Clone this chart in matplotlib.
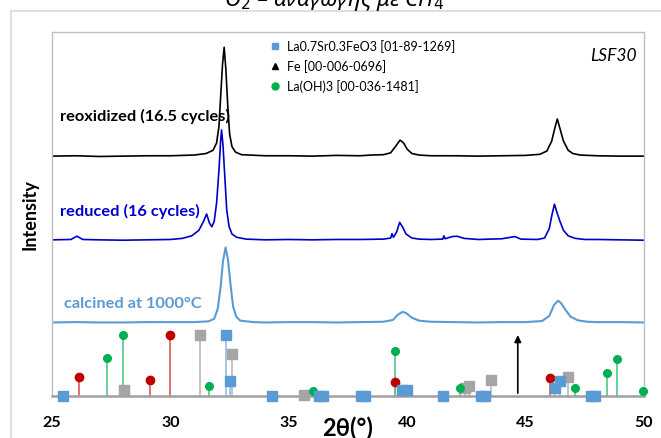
"""XRD patterns of LSF30 after O2/CH4 redox cycles, with reference sticks."""
import matplotlib
matplotlib.use("Agg")
import matplotlib.pyplot as plt
from matplotlib.lines import Line2D
from matplotlib.patches import Rectangle

plt.rcParams["font.family"] = ["Lato", "DejaVu Sans"]

# --- measured patterns (2theta, offset intensity) ---
reox_tt = [25.0, 26.0, 27.0, 28.0, 29.0, 30.0, 31.0, 31.5, 31.8, 31.95, 32.05, 32.12, 32.2, 32.27,
           32.34, 32.42, 32.5, 32.6, 32.75, 33.0, 34.0, 35.0, 36.0, 37.0, 38.0, 38.5, 39.0, 39.3,
           39.5, 39.7, 39.85, 40.0, 40.2, 40.5, 41.0, 42.0, 43.0, 44.0, 45.0, 45.6, 45.9, 46.1,
           46.25, 46.34, 46.45, 46.6, 46.8, 47.0, 47.3, 48.0, 49.0, 50.0]
reox_int = [65.9, 66.0, 65.8, 65.9, 66.0, 66.0, 66.2, 66.6, 67.5, 69.5, 74.0, 82.0, 91.0, 95.8,
            90.0, 80.0, 72.0, 68.5, 67.0, 66.3, 66.0, 66.0, 65.9, 66.1, 66.0, 66.2, 66.3, 66.8,
            68.5, 70.3, 69.5, 67.8, 66.6, 66.2, 66.0, 66.0, 65.9, 66.0, 66.1, 66.4, 67.3, 70.0,
            74.0, 76.1, 73.5, 70.0, 67.5, 66.6, 66.2, 66.0, 65.9, 65.9]

red_tt = [25.0, 25.8, 26.05, 26.3, 27.0, 28.0, 29.0, 30.0, 30.5, 30.9, 31.2, 31.4, 31.53, 31.65,
          31.75, 31.85, 31.95, 32.05, 32.12, 32.16, 32.22, 32.3, 32.38, 32.48, 32.6, 32.8, 33.2,
          34.0, 35.0, 36.0, 37.0, 38.0, 39.0, 39.3, 39.36, 39.42, 39.55, 39.68, 39.8, 39.95,
          40.2, 40.5, 41.0, 41.5, 41.55, 41.6, 41.9, 42.1, 42.4, 43.0, 44.0, 44.55, 44.8, 45.5,
          45.8, 46.0, 46.12, 46.22, 46.32, 46.45, 46.6, 46.8, 47.1, 47.5, 48.0, 49.0, 50.0]
red_int = [42.9, 43.0, 43.9, 43.0, 42.9, 42.8, 42.9, 43.0, 43.3, 44.0, 45.5, 48.0, 50.0, 47.5,
           46.5, 48.0, 53.0, 62.0, 70.0, 73.1, 69.0, 60.0, 51.0, 46.5, 44.5, 43.6, 43.1,
           42.9, 43.0, 42.9, 43.0, 43.0, 43.1, 43.4, 44.6, 43.6, 45.0, 47.7, 46.5, 44.5,
           43.4, 43.1, 43.0, 43.1, 44.0, 43.2, 43.8, 43.9, 43.3, 43.0, 43.2, 43.8, 43.1, 43.0,
           43.4, 46.0, 50.0, 52.7, 50.5, 48.0, 45.5, 44.0, 43.3, 43.0, 43.0, 42.9, 42.8]

calc_tt = [25.0, 26.0, 27.0, 28.0, 29.0, 30.0, 31.0, 31.6, 31.85, 32.0, 32.12, 32.22, 32.33,
           32.43, 32.55, 32.65, 32.78, 32.95, 33.5, 34.0, 35.0, 36.0, 37.0, 38.0, 39.0, 39.4,
           39.6, 39.8, 39.95, 40.2, 40.5, 41.0, 42.0, 43.0, 44.0, 45.0, 45.7, 46.0, 46.2, 46.37,
           46.5, 46.7, 46.9, 47.2, 47.6, 48.0, 49.0, 50.0]
calc_int = [20.2, 20.3, 20.2, 20.2, 20.3, 20.3, 20.3, 20.5, 21.2, 24.0, 30.0, 37.0, 40.8,
            37.5, 30.0, 24.5, 21.8, 20.7, 20.3, 20.2, 20.3, 20.3, 20.2, 20.3, 20.4, 20.9,
            22.3, 23.1, 22.8, 21.5, 20.7, 20.4, 20.3, 20.2, 20.3, 20.3, 20.6, 22.0, 25.0, 26.2,
            25.5, 23.5, 21.8, 20.8, 20.4, 20.3, 20.3, 20.2]

# --- reference sticks ---
lsf_pos = [25.48, 32.33, 32.52, 34.3, 36.28, 36.45, 38.07, 38.2, 39.78, 40.0, 41.51, 43.13,
           43.3, 46.25, 46.46, 47.77, 47.95]
lsf_h = [0, 16.7, 4.2, 0, 0, 0, 0, 0, 1.7, 1.6, 0, 0, 0, 2.2, 4.0, 0, 0]
fe_pos = [44.67]
fe_h = [17.5]
laoh_pos = [27.33, 28.0, 31.64, 36.03, 39.49, 42.24, 47.07, 48.44, 48.84, 49.97]
laoh_h = [10.4, 16.7, 2.7, 1.4, 12.4, 2.1, 2.1, 6.3, 10.2, 1.5]
red_pos = [26.14, 29.13, 29.98, 39.5, 46.05]
red_h = [5.1, 4.4, 16.7, 3.8, 4.9]
gray_pos = [28.05, 31.24, 32.62, 35.63, 42.43, 42.6, 43.55, 46.81]
gray_h = [1.7, 16.7, 11.6, 0.4, 2.1, 2.8, 4.4, 5.3]

x_ticks = [25, 30, 35, 40, 45, 50]

C_BLACK = "#000000"
C_RED_TRACE = "#0000CC"
C_CALC = "#5B9BD5"


def _sticks(ax, pos, h, stem_color, marker, mcolor, ms):
    for p, v in zip(pos, h):
        ax.plot([p, p], [0, v], color=stem_color, lw=1.3, zorder=2, clip_on=False)
    ax.plot(pos, h, ls="none", marker=marker, color=mcolor, ms=ms, mec=mcolor, zorder=3, clip_on=False)


fig = plt.figure(figsize=(6.61, 4.39), dpi=100)
fig.patches.append(Rectangle((11 / 661, -0.1), 1.0, (439 - 12) / 439 + 0.1, transform=fig.transFigure,
                             fill=False, edgecolor="#D9D9D9", lw=1.2))
# title sits mostly above the crop, as in the source image
fig.text(0.505, 1.0 - 6 / 439, "O$_2$ – αναγωγής με CH$_4$", ha="center", va="baseline",
         fontsize=16, style="italic", family=["Noto Sans", "DejaVu Sans"])

ax = fig.add_axes([52 / 661, 42 / 439, 592 / 661, 364 / 439])

ax.plot(reox_tt, reox_int, color=C_BLACK, lw=1.2)
ax.plot(red_tt, red_int, color=C_RED_TRACE, lw=1.2)
ax.plot(calc_tt, calc_int, color=C_CALC, lw=1.5)

# sticks
_sticks(ax, gray_pos, gray_h, "#BFBFBF", "s", "#A5A5A5", 6.5)
_sticks(ax, red_pos, red_h, "#E06666", "o", "#C00000", 6)
_sticks(ax, laoh_pos, laoh_h, "#5FCB8C", "o", "#00B050", 5.5)
_sticks(ax, lsf_pos, lsf_h, "#9DC3E6", "s", "#5B9BD5", 6.5)
for p, v in zip(fe_pos, fe_h):
    ax.annotate("", xy=(p, v), xytext=(p, 0),
                arrowprops=dict(arrowstyle="-|>", color="black", lw=1.2, mutation_scale=10))

ax.text(25.35, 77, "reoxidized (16.5 cycles)", fontsize=11.8, fontweight="bold", color=C_BLACK, va="center")
ax.text(25.35, 50.9, "reduced (16 cycles)", fontsize=11.8, fontweight="bold", color=C_RED_TRACE, va="center")
ax.text(25.5, 25.5, "calcined at 1000°C", fontsize=11.8, fontweight="bold", color=C_CALC, va="center")
ax.text(0.987, 0.96, "LSF30", transform=ax.transAxes, fontsize=12.5, style="italic", ha="right", va="top")

handles = [
    Line2D([], [], ls="none", marker="s", color="#5B9BD5", ms=5),
    Line2D([], [], ls="none", marker="^", color="black", ms=5),
    Line2D([], [], ls="none", marker="o", color="#00B050", ms=5),
]
labels = ["La0.7Sr0.3FeO3 [01-89-1269]", "Fe [00-006-0696]", "La(OH)3 [00-036-1481]"]
ax.legend(handles, labels, loc="upper left", bbox_to_anchor=(0.355, 1.0), frameon=False, fontsize=9,
          handlelength=0.8, handletextpad=0.6, labelspacing=0.55, borderaxespad=0.2)

ax.set_xlim(25, 50)
ax.set_ylim(0, 100)
ax.set_xticks(x_ticks)
ax.set_xticklabels([str(t) for t in x_ticks], fontsize=11.5, fontweight="bold")
ax.tick_params(axis="x", length=0, pad=14)
ax.set_yticks([])
ax.set_xlabel("2θ(°)", fontsize=17, fontweight="bold", labelpad=-10)
ax.set_ylabel("Intensity", fontsize=13, fontweight="bold", labelpad=10)
for side in ["left", "top", "right"]:
    ax.spines[side].set_color("#BFBFBF")
    ax.spines[side].set_linewidth(1.0)
ax.spines["bottom"].set_color("#A0A0A0")
ax.spines["bottom"].set_linewidth(1.8)

fig.savefig("out.png", dpi=100)
plt.close(fig)
